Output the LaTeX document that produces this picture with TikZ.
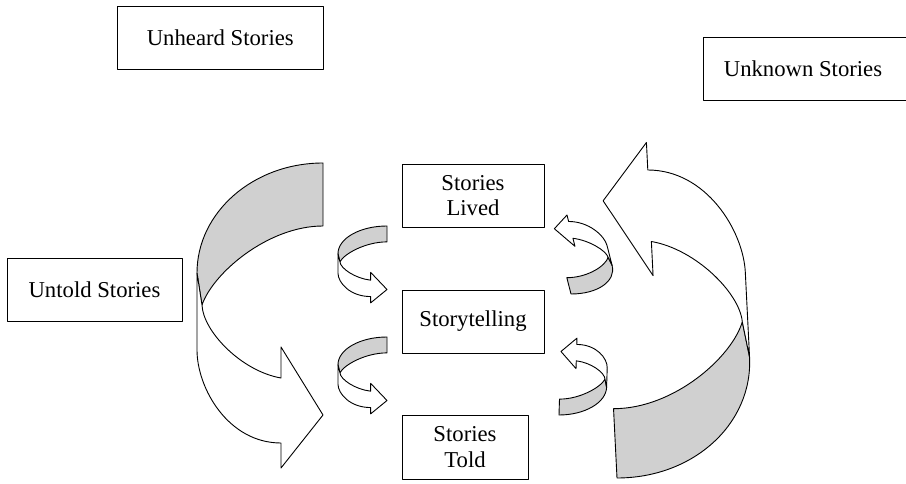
\documentclass[tikz,border=0pt]{standalone}
\usepackage{fontspec}
\setmainfont{Liberation Serif}
\definecolor{ribgrey}{RGB}{208,208,208}
\newcommand\ribbonarrow{%
  \filldraw[fill=ribgrey] (0,0) .. controls (-69.6,0) and (-126,49.3) .. (-126,110)
     -- (-121,142) .. controls (-110,110) and (-55,63) .. (0,63) -- cycle;
  \filldraw[fill=white] (-126,110) -- (-126,187) .. controls (-126,225) and (-95,280) .. (-42,280)
     -- (-42,305) -- (0,252) -- (-42,184) -- (-42,215)
     .. controls (-82,208) and (-120,168) .. (-121,142) -- cycle;
}
\begin{document}
\begin{tikzpicture}[x=1pt,y=-1pt,
  font=\fontsize{22.7}{25.5}\selectfont,
  line width=0.9pt, line join=round,
  box/.style={draw, rectangle, inner sep=0pt, align=center}]
\useasboundingbox (0,0) rectangle (906,484);
% boxes
\node[box, minimum width=205.3pt, minimum height=63pt] (unheard) at (220.3,37.5) {Unheard Stories};
\draw (703,37) rectangle (912,100);
\node (unknown) at (803,69) {Unknown Stories};
\node[box, minimum width=175pt, minimum height=63pt] (untold) at (94.5,289.5) {Untold Stories};
\node[box, minimum width=142pt, minimum height=63pt] (lived) at (473,195.5) {Stories\\Lived};
\node[box, minimum width=142pt, minimum height=63pt] (telling) at (473,321.5) {Storytelling};
\node[box, minimum width=126pt, minimum height=64pt] (told) at (465,447) {Stories\\Told};
% big ribbon arrows
\begin{scope}[shift={(323,163)}]
  \ribbonarrow
\end{scope}
\begin{scope}[shift={(617,478)}, xslant=-0.05, rotate=180, scale=1.1]
  \ribbonarrow
\end{scope}
% small ribbon arrows
\begin{scope}[shift={(387,226)}, xscale=0.389, yscale=0.252]
  \ribbonarrow
\end{scope}
\begin{scope}[shift={(387,337)}, xscale=0.389, yscale=0.252]
  \ribbonarrow
\end{scope}
\begin{scope}[shift={(571,294)}, xslant=-0.255, rotate=180, xscale=0.384, yscale=0.259]
  \ribbonarrow
\end{scope}
\begin{scope}[shift={(559,415)}, xslant=0.031, rotate=180, xscale=0.371, yscale=0.252]
  \ribbonarrow
\end{scope}
\end{tikzpicture}
\end{document}
